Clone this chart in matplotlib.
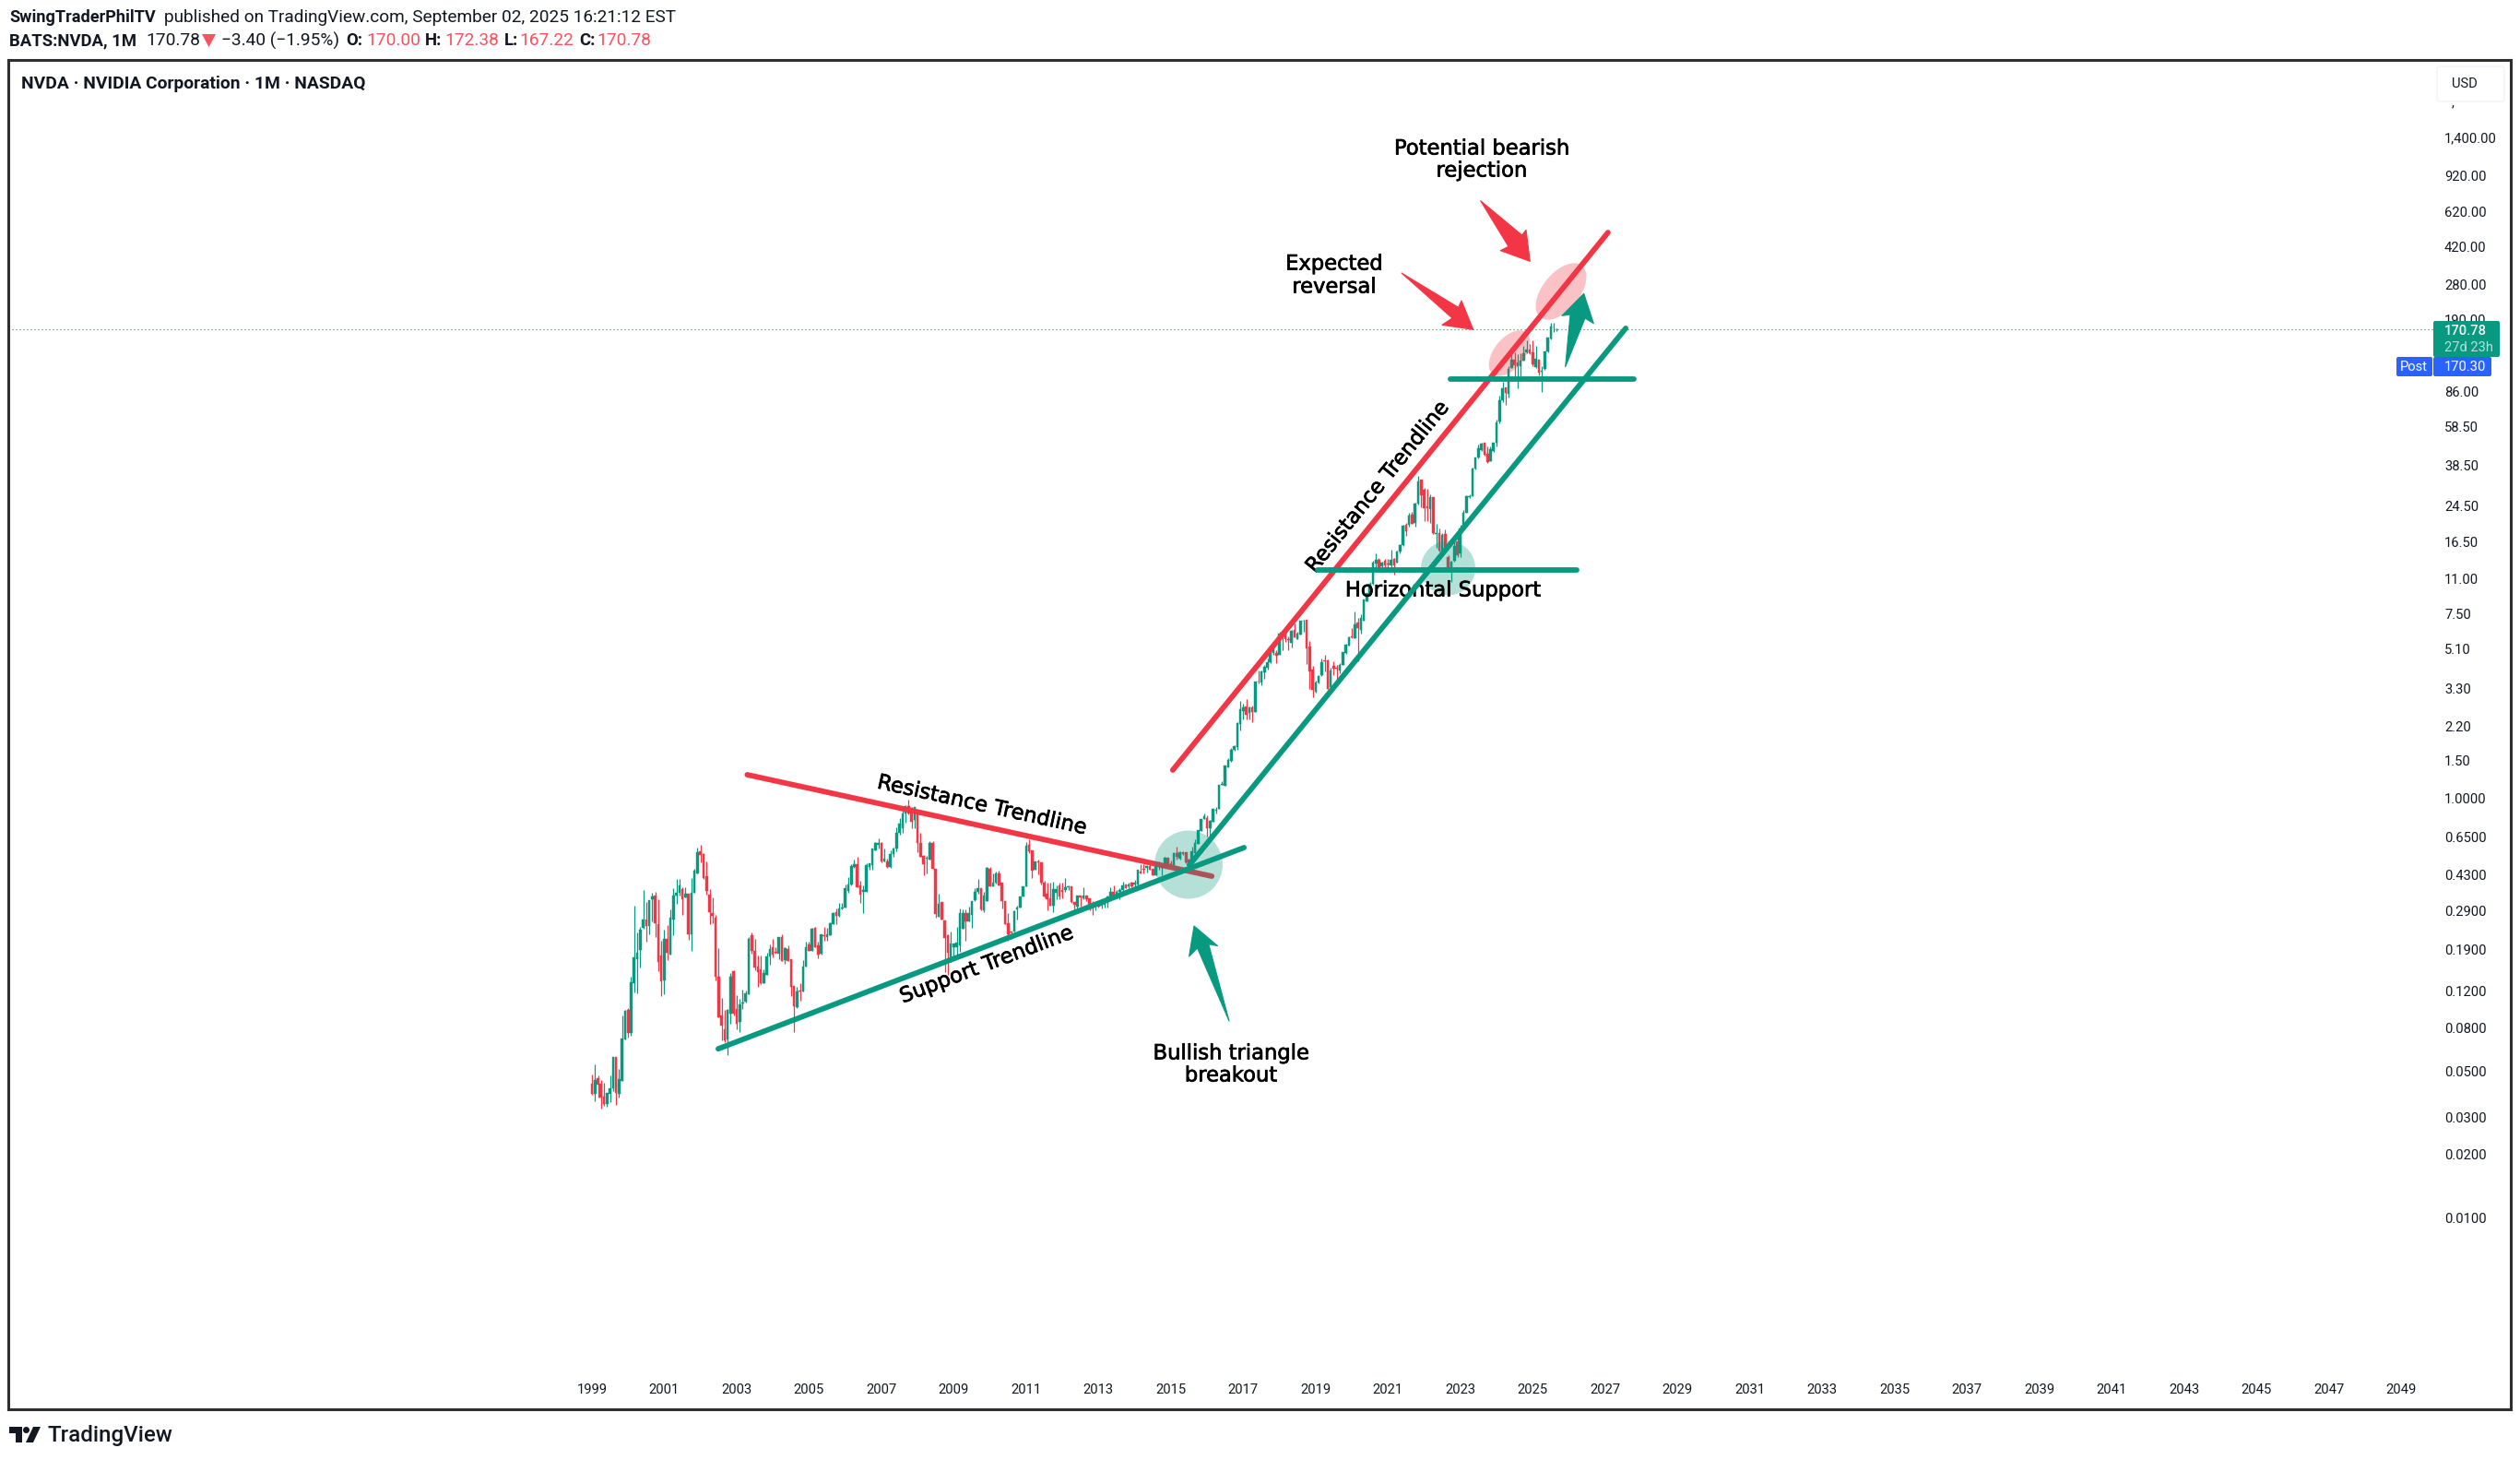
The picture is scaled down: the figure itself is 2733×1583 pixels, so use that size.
#!/usr/bin/env python3
# NVDA monthly candles with hand drawn trendlines, tradingview style
import numpy as np
import matplotlib
matplotlib.use("Agg")
import matplotlib.pyplot as plt
from matplotlib.patches import Ellipse, Polygon, Circle, FancyBboxPatch
from matplotlib.transforms import Affine2D
import matplotlib.patheffects as pe

# ---- monthly candles, Jan 1999 to Sep 2025 ----
start_year = 1999
opens = [
    .0434,.0390,.0464,.0434,.0379,.0347,.0389,.0412,.0582,.0390,
    .0446,.0708,.0975,.0757,.1308,.1701,.1882,.2400,.2627,.2449,
    .3285,.3419,.2499,.1772,.1349,.2126,.1790,.2637,.3419,.3513,
    .3671,.3340,.3489,.2243,.3525,.4374,.5558,.5391,.4230,.3454,
    .2821,.2682,.1404,.0918,.0788,.0705,.0938,.1492,.0985,.0855,
    .1050,.1068,.1158,.2213,.1863,.1568,.1523,.1308,.1432,.1754,
    .1940,.1839,.1808,.2180,.1684,.1901,.1701,.1269,.1008,.1206,
    .1194,.1568,.2000,.1863,.2399,.1980,.1808,.2213,.2170,.2213,
    .2499,.2850,.2737,.2968,.2998,.3600,.3861,.4660,.4823,.3822,
    .3560,.3560,.4679,.4775,.5612,.5966,.6086,.4975,.4975,.4679,
    .5397,.5729,.6827,.7130,.8385,.9126,.8945,.7840,.8304,.6065,
    .5280,.5105,.5075,.6085,.4585,.2710,.3185,.2605,.2215,.1730,
    .1935,.1947,.1980,.2370,.2821,.2565,.2765,.3250,.3550,.3696,
    .2900,.3220,.4585,.3770,.3925,.4345,.3925,.3205,.2520,.2304,
    .2304,.2950,.2990,.3385,.3795,.5985,.5615,.4555,.4975,.4925,
    .3925,.3475,.3320,.3060,.3520,.3822,.3620,.3620,.3740,.3795,
    .3185,.3019,.3405,.3320,.3405,.3320,.3165,.3060,.3122,.3060,
    .3100,.3145,.3360,.3573,.3475,.3550,.3620,.3875,.3785,.3925,
    .3875,.3850,.4465,.4585,.4620,.4710,.4600,.4290,.4870,.4650,
    .4780,.5177,.4870,.4710,.5445,.5140,.5505,.5505,.5090,.4840,
    .5445,.6030,.6970,.7890,.8028,.7135,.7712,.8680,.8825,1.148,
    1.144,1.400,1.497,1.686,1.744,2.246,2.595,2.72,2.544,2.703,
    2.56,3.59,3.54,3.94,4.16,4.41,4.90,4.92,4.795,5.83,
    6.03,5.676,5.488,6.32,5.71,5.99,6.948,7.07,5.25,4.10,
    3.2,3.54,3.85,4.51,4.51,3.37,4.23,4.18,4.05,4.29,
    4.90,5.33,5.85,5.78,6.83,6.28,6.99,8.65,9.4,10.5,
    13.0,13.55,12.65,13.4,13.1,12.75,13.7,13.18,14.9,16.0,
    19.9,19.9,22.3,20.43,25.2,32.74,29.3,24.5,23.8,27.0,
    18.1,18.3,14.9,18.0,14.0,12.1,13.4,16.69,14.58,19.2,
    22.8,27.1,27.2,37.2,41.7,45.5,49.05,43.4,40.0,45.0,
    49.05,62.0,78.4,90.2,83.8,111.2,122.2,114.2,113.5,120.5,
    132,136,133,112.4,122.2,107.5,110.5,133.4,153.7,173.5,170.0,
]
highs = [
    .0483,.0540,.0475,.0452,.0437,.0392,.0475,.0582,.0582,.0513,
    .0918,.0975,.0999,.1404,.3053,.2281,.2420,.3634,.3186,.3251,
    .3513,.3560,.3285,.2083,.2350,.2482,.2938,.3696,.4103,.4089,
    .3745,.3745,.3489,.4145,.4585,.5790,.5966,.5447,.4979,.3671,
    .3351,.2755,.1923,.1110,.0975,.0985,.1462,.1508,.1147,.1102,
    .1218,.1206,.2180,.2281,.2126,.1772,.1772,.1523,.1826,.2000,
    .2126,.1940,.2180,.2248,.1940,.1980,.1701,.1269,.1256,.1308,
    .1684,.2062,.2062,.2399,.2424,.2062,.2248,.2424,.2399,.2550,
    .2850,.2968,.3154,.3154,.3861,.4188,.4823,.5075,.5231,.4021,
    .3822,.4871,.4871,.5729,.6129,.6403,.6150,.5729,.5127,.5612,
    .5812,.7256,.7980,.8740,.9188,.9765,.9035,.9035,.8589,.6782,
    .5320,.5280,.6235,.6235,.4585,.3475,.3185,.2605,.2240,.2304,
    .2025,.2435,.2960,.2935,.2935,.3019,.3205,.3696,.4089,.3696,
    .3573,.4679,.4679,.4374,.4450,.4495,.3925,.3205,.2821,.2304,
    .2918,.3050,.3385,.3795,.6129,.6339,.5615,.4975,.5075,.4925,
    .4020,.3925,.3954,.4000,.3822,.3925,.3954,.4160,.3822,.3795,
    .3185,.3405,.3430,.3745,.3430,.3320,.3229,.3229,.3205,.3270,
    .3320,.3430,.3760,.3822,.3650,.3696,.3980,.3875,.3925,.3980,
    .4060,.4555,.4810,.4840,.4760,.4810,.4600,.4925,.4975,.4840,
    .5210,.5177,.5007,.5505,.5825,.5539,.5539,.5505,.5145,.5850,
    .6339,.7015,.7890,.8445,.8220,.7810,.8825,.9005,1.152,1.200,
    1.431,1.55,1.72,1.785,2.30,2.90,2.80,2.96,2.73,2.75,
    3.59,4.05,4.02,4.30,4.6,5.20,5.20,5.05,6.15,6.3,
    6.1,5.9,6.28,6.75,6.18,6.95,7.05,7.07,5.6,4.25,
    3.6,3.85,4.6,4.8,4.55,4.15,4.45,4.30,4.38,4.95,
    5.4,5.9,6.45,7.7,7.2,7.50,8.80,9.45,10.7,13.4,
    14.58,13.87,13.27,13.7,13.7,15.2,13.85,15.08,16.13,20.0,
    20.43,22.75,23.0,25.35,34.1,32.74,30.0,29.6,28.0,27.1,
    20.1,19.1,18.15,18.95,14.3,13.5,16.6,18.4,19.9,23.4,
    27.66,28.0,37.46,41.7,48.0,49.3,49.05,47.0,47.0,49.3,
    63.5,82.0,95.8,90.2,114.2,139.8,133,129.8,130.7,142.2,
    150.6,144.6,150.6,142.2,122.2,114.2,133.4,155.7,183.1,183.1,172.38,
]
lows = [
    .0384,.0358,.0375,.0331,.0340,.0337,.0354,.0399,.0345,.0373,
    .0446,.0708,.0720,.0737,.1182,.1174,.1558,.2367,.2069,.2228,
    .2575,.2177,.1497,.1135,.1162,.1684,.1790,.2213,.3122,.3431,
    .2765,.3340,.2111,.1863,.3525,.4374,.4923,.4089,.3466,.2499,
    .2525,.1349,.0900,.0698,.0684,.0594,.0838,.0918,.0788,.0765,
    .0985,.1061,.1158,.1808,.1508,.1256,.1295,.1308,.1432,.1601,
    .1731,.1808,.1701,.1667,.1618,.1667,.1135,.0765,.0995,.1080,
    .1194,.1568,.1863,.1863,.1940,.1718,.1790,.2083,.2083,.2213,
    .2499,.2499,.2710,.2938,.2998,.3525,.3822,.4613,.3745,.3154,
    .2821,.3560,.4540,.4540,.5612,.5729,.4923,.4975,.4633,.4633,
    .5230,.5576,.6670,.6782,.7633,.8304,.7135,.7135,.5500,.5230,
    .4285,.4374,.5075,.4585,.2675,.2710,.2630,.1477,.1430,.1645,
    .1760,.1760,.1850,.2370,.2083,.2565,.2400,.3229,.3500,.2918,
    .2860,.3220,.3770,.3770,.3885,.3835,.2980,.2500,.2083,.2120,
    .2304,.2637,.2990,.3385,.3795,.5445,.4160,.4524,.4300,.3850,
    .3340,.2900,.3060,.2840,.3285,.3285,.3320,.3573,.3635,.3165,
    .2918,.2970,.3019,.3295,.3229,.2900,.2775,.2918,.3000,.2970,
    .3000,.3000,.3340,.3360,.3405,.3270,.3573,.3696,.3696,.3760,
    .3770,.3822,.4345,.4374,.4405,.4524,.4260,.4260,.4524,.4260,
    .4750,.4710,.4679,.4679,.5090,.5090,.5320,.4870,.4765,.4840,
    .5445,.6030,.6970,.7890,.6557,.6445,.7712,.8445,.8825,1.148,
    1.144,1.39,1.49,1.68,1.70,2.09,2.36,2.36,2.36,2.30,
    2.56,3.50,3.45,3.70,4.1,4.40,4.80,4.40,4.795,5.04,
    5.5,5.04,5.2,5.8,5.71,5.99,6.2,4.33,3.31,3.0,
    3.17,3.5,3.8,4.0,3.31,3.27,3.85,3.65,3.9,4.29,
    4.85,5.3,5.78,5.75,4.48,6.07,6.95,8.6,9.2,10.4,
    12.25,12.1,12.33,12.33,12.4,12.5,11.52,13.18,14.6,15.9,
    17.75,19.6,20.2,19.5,24.9,24.3,20.8,20.8,20.43,18.1,
    15.5,14.9,14.9,14.8,11.92,10.7,13.3,14.05,14.05,19.1,
    22.8,26.9,27.2,36.8,41.2,45.0,42.6,39.5,40.0,44.3,
    47.3,61,77,74.7,81,111,101.5,89.6,101.5,120.5,
    130.7,129.5,113.5,111.2,103.3,85.8,109.8,132.9,152.7,165.5,167.22,
]
closes = [
    .0389,.0452,.0431,.0375,.0347,.0392,.0415,.0582,.0392,.0456,
    .0713,.0966,.0757,.1321,.1736,.1820,.2359,.2627,.2449,.3251,
    .3385,.2525,.1656,.1339,.2126,.1826,.2682,.3419,.3513,.3822,
    .3296,.3489,.2243,.3525,.4494,.5502,.5337,.4160,.3609,.2850,
    .2737,.1404,.0900,.0821,.0698,.0975,.1404,.0938,.0838,.1036,
    .1057,.1170,.2130,.1863,.1558,.1477,.1308,.1462,.1754,.1901,
    .1790,.1826,.2170,.1667,.1923,.1667,.1256,.1015,.1194,.1198,
    .1568,.1940,.1863,.2375,.1940,.1790,.2235,.2198,.2235,.2525,
    .2821,.2737,.2968,.2998,.3708,.3861,.4727,.4823,.3745,.3454,
    .3634,.4775,.4871,.5729,.6086,.6086,.4975,.5127,.4679,.5391,
    .5729,.6827,.7555,.8385,.9126,.8445,.7712,.9035,.6065,.5230,
    .4810,.5177,.6085,.4585,.2795,.3122,.2630,.2155,.1825,.2014,
    .2025,.2035,.2821,.2821,.2565,.2821,.3205,.3573,.3696,.2935,
    .3405,.4650,.3770,.3954,.4345,.3835,.3220,.2500,.2228,.2290,
    .2880,.2990,.3385,.3795,.5926,.5576,.4495,.4975,.4925,.3925,
    .3385,.3285,.3060,.3670,.3670,.3385,.3550,.3760,.3785,.3185,
    .3100,.3405,.3340,.3430,.3270,.2935,.2970,.3145,.3019,.3165,
    .3229,.3385,.3573,.3405,.3573,.3635,.3822,.3720,.3875,.3795,
    .3925,.4524,.4374,.4555,.4710,.4555,.4290,.4870,.4810,.4810,
    .5177,.4765,.4710,.5445,.5210,.5505,.5395,.4925,.4810,.5539,
    .6085,.7015,.7890,.8165,.7135,.7762,.8825,.8765,1.152,1.1637,
    1.431,1.508,1.697,1.765,2.27,2.638,2.703,2.485,2.703,2.56,
    3.59,3.56,4.01,4.22,4.43,5.13,5.12,4.76,6.072,6.03,
    5.676,5.62,6.24,5.83,6.03,6.948,7.0,5.17,4.0,3.26,
    3.54,3.787,4.41,4.45,3.31,4.05,4.14,4.14,4.29,4.93,
    5.36,5.82,5.8,6.7,6.45,7.187,8.80,9.41,10.5,13.18,
    13.55,12.33,13.18,12.83,12.95,13.64,12.83,14.83,16.0,19.75,
    18.6,22.15,20.2,25.2,32.2,27.66,23.9,23.95,27.0,18.2,
    18.3,15.0,17.85,14.9,11.92,13.3,15.8,14.3,19.2,22.9,
    27.3,27.4,37.2,41.7,46.1,48.5,42.9,39.8,45.85,49.05,
    61.5,78.4,89.3,85.0,110.0,122.2,115,119,120.5,130.7,
    136,131.6,116.2,123,106.1,108.2,133.4,155.7,175.9,174.2,170.78,
]

# ---- axis ticks ----
price_ticks = [1400, 920, 620, 420, 280, 190, 130, 86, 58.5, 38.5, 24.5, 16.5, 11,
               7.5, 5.1, 3.3, 2.2, 1.5, 1.0, .65, .43, .29, .19, .12, .08, .05, .03, .02, .01]
year_ticks = list(range(1999, 2050, 2))
last_price = 170.78

# ---- drawn trendlines (year, price) ----
res_low_years, res_low_prices = [2003.29, 2016.13], [1.288, .4231]
sup_low_years, sup_low_prices = [2002.49, 2017.02], [.0637, .579]
res_up_years, res_up_prices = [2015.05, 2027.08], [1.355, 493]
sup_up_years, sup_up_prices = [2015.51, 2027.57], [.478, 172.4]
hline_high_years, hline_high_prices = [2022.73, 2027.8], [98.8, 98.8]
hline_low_years, hline_low_prices = [2019.06, 2026.22], [12.17, 12.17]

GREEN = "#089981"
RED = "#f23645"
INK = "#131722"
BLUE = "#2962ff"
W, H = 2733, 1583

fig = plt.figure(figsize=(W / 100, H / 100), dpi=100, facecolor="white")
# panel box in pixels: left 9, right 2723, top 65, bottom 1528
ax = fig.add_axes([9 / W, 1 - 1528 / H, (2723 - 9) / W, (1528 - 65) / H])
ax.set_yscale("log")
ax.set_xlim(1982.87, 2052.03)
ax.set_ylim(.001222, 3272.6)
ax.set_xticks([])
ax.set_yticks([])
ax.minorticks_off()
for s in ax.spines.values():
    s.set_linewidth(2.2)
    s.set_color("#2e2e2e")
    s.set_zorder(20)

# pixel coords with y going down, for the overlay bits
to_px = Affine2D().scale(1, -1).translate(0, H)

# ---- candles ----
o = np.array(opens)
h = np.array(highs)
l = np.array(lows)
c = np.array(closes)
xs = start_year + np.arange(len(o)) / 12.0
cols = np.where(c >= o, GREEN, RED)
ax.vlines(xs, l, h, colors=cols, linewidth=0.9, zorder=2)
ax.bar(xs, np.abs(c - o), bottom=np.minimum(o, c), width=0.066, color=cols,
       edgecolor=cols, linewidth=0.3, zorder=2.1)

# last price line
ax.plot([ax.get_xlim()[0], 2051.0], [last_price, last_price], color=BLUE, lw=0.8,
        linestyle=(0, (1, 2.6)), zorder=1.5)

# ---- trendlines ----
ax.plot(res_low_years, res_low_prices, color=RED, lw=4.2, solid_capstyle="round", zorder=3)
ax.add_patch(Circle((1289, 937.5), 37, transform=to_px, color=GREEN, alpha=.3, lw=0, zorder=4))
ax.add_patch(Circle((1570.5, 616), 29.5, transform=to_px, color=GREEN, alpha=.3, lw=0, zorder=4))
ax.add_patch(Ellipse((1637, 383), 58, 33, angle=-51, transform=to_px, color=RED, alpha=.3, lw=0, zorder=4))
ax.add_patch(Ellipse((1693, 316), 72, 40, angle=-51, transform=to_px, color=RED, alpha=.3, lw=0, zorder=4))

# ---- labels on the drawing ----
note_font = dict(family="DejaVu Sans", color="black", transform=to_px, zorder=4.5, fontsize=16.3,
                 ha="center", va="center", rotation_mode="anchor",
                 path_effects=[pe.withStroke(linewidth=0.5, foreground="black")])
ax.text(1065, 873, "Resistance Trendline", rotation=-12.5, **note_font)
ax.text(1070, 1046, "Support Trendline", rotation=20.9, **note_font)
ax.text(1494, 528, "Resistance Trendline", rotation=51, **note_font)
ax.text(1565, 640, "Horizontal Support", **note_font)
for txt, xp, yp in [("Potential bearish", 1607, 161), ("rejection", 1607, 185),
                    ("Expected", 1447, 286), ("reversal", 1447, 311),
                    ("Bullish triangle", 1335, 1142), ("breakout", 1335, 1166)]:
    ax.text(xp, yp, txt, **note_font)

for xv, yv, col in [(res_up_years, res_up_prices, RED), (sup_low_years, sup_low_prices, GREEN),
                    (sup_up_years, sup_up_prices, GREEN), (hline_high_years, hline_high_prices, GREEN),
                    (hline_low_years, hline_low_prices, GREEN)]:
    ax.plot(xv, yv, color=col, lw=4.2, solid_capstyle="round", zorder=5)

# ---- arrows ----
arrows = [
    (RED, [(1605.7, 217.7), (1650.7, 255), (1655, 249.3), (1659.3, 283.3), (1627.3, 271.7), (1636, 267.3)]),
    (RED, [(1520, 296), (1581.7, 333.3), (1585, 326), (1597.7, 357.3), (1564, 352.3), (1575, 345)]),
    (GREEN, [(1697.7, 397.7), (1703, 341), (1694, 342.3), (1717.7, 318.3), (1728.3, 350.7), (1719, 345)]),
    (GREEN, [(1333, 1107), (1298.6, 1028), (1289.6, 1037), (1295, 1004), (1320.5, 1025.5), (1310.8, 1023.7)]),
]
for col, pts in arrows:
    ax.add_patch(Polygon(pts, closed=True, transform=to_px, facecolor=col, edgecolor=col,
                         lw=0.8, joinstyle="round", zorder=6))

# ---- axis labels, drawn inside the panel like the site does ----
axis_font = dict(family="Roboto", fontsize=10.6, color=INK)
def price_label(p):
    if p >= 1000:
        return f"{p:,.2f}"
    if p > 1:
        return f"{p:.2f}"
    return f"{p:.4f}"

y_tf = ax.get_yaxis_transform() + Affine2D().translate(0, -1.5)
for p in price_ticks:
    ax.text((2651 - 9) / (2723 - 9), p, price_label(p), transform=y_tf, ha="left", va="center",
            zorder=7, **axis_font)
x_tf = ax.get_xaxis_transform()
for yr in year_ticks:
    ax.text(yr, (1528 - 1507) / (1528 - 65), str(yr), transform=x_tf, ha="center", va="center",
            zorder=7, **axis_font)

# USD button and price tags (the top tick label hides behind the button, only its comma shows)
ax.text(2660, 111, ",", transform=to_px, ha="center", va="center", zorder=7, **axis_font)
ax.add_patch(FancyBboxPatch((2646, 75), 67, 32, boxstyle="round,pad=3", transform=to_px,
                            facecolor="white", edgecolor="#f0f3fa", lw=1, zorder=8))
ax.text(2673, 91, "USD", transform=to_px, ha="center", va="center", zorder=9, **axis_font)
ax.add_patch(FancyBboxPatch((2641, 350), 68, 35, boxstyle="round,pad=2", transform=to_px,
                            facecolor=GREEN, edgecolor="none", zorder=8))
ax.add_patch(FancyBboxPatch((2641, 389), 59, 17, boxstyle="round,pad=2", transform=to_px,
                            facecolor=BLUE, edgecolor="none", zorder=8))
ax.add_patch(FancyBboxPatch((2601, 389), 35, 17, boxstyle="round,pad=2", transform=to_px,
                            facecolor=BLUE, edgecolor="none", zorder=8))
tag_font = dict(family="Roboto", fontsize=10.6, transform=to_px, va="center", zorder=9)
ax.text(2651, 359, "170.78", color="white", ha="left", fontweight="medium", **tag_font)
ax.text(2651, 377, "27d 23h", color="#b5e0d8", ha="left", **tag_font)
ax.text(2651, 398, "170.30", color="white", ha="left", **tag_font)
ax.text(2618, 398, "Post", color="white", ha="center", **tag_font)

# ---- header ----
head_fam = ["Liberation Sans Narrow", "Roboto"]
def head(x, y, s, weight="normal", col=INK, size=13.8):
    fig.text(x / W, 1 - y / H, s, family=head_fam, fontsize=size, fontweight=weight,
             color=col, ha="left", va="center")

head(10, 19, "SwingTraderPhilTV", "bold", size=13.1)
head(178, 19, "published on TradingView.com, September 02, 2025 16:21:12 EST", size=13.7)
head(10, 44, "BATS:NVDA, 1M", "bold", size=13.3)
head(158, 44, "170.78")
head(240, 44, "\u22123.40 (\u22121.95%)")
for x_lab, s_lab, x_val, s_val in [(375, "O:", 397, "170.00"), (461, "H:", 482, "172.38"),
                                   (547, "L:", 563, "167.22"), (628, "C:", 647, "170.78")]:
    head(x_lab, 44, s_lab, "bold", size=13.3)
    head(x_val, 44, s_val, col="#f7525f")
fig.add_artist(Polygon([(219, 37), (234, 37), (226.5, 51)], closed=True, transform=to_px,
                       facecolor="#f7525f", edgecolor="none"))
head(23, 91, "NVDA \u00b7 NVIDIA Corporation \u00b7 1M \u00b7 NASDAQ", "bold", size=13.85)

# ---- logo ----
fig.add_artist(Polygon([(10, 1547), (24, 1547), (24, 1564), (17, 1564), (17, 1554), (10, 1554)],
                       closed=True, transform=to_px, facecolor=INK, edgecolor="none"))
fig.add_artist(Circle((28.5, 1550.5), 3.5, transform=to_px, facecolor=INK, edgecolor="none"))
fig.add_artist(Polygon([(36, 1547), (44, 1547), (36, 1564), (28, 1564)],
                       closed=True, transform=to_px, facecolor=INK, edgecolor="none"))
fig.text(52 / W, 1 - 1556 / H, "TradingView", family="Roboto", fontsize=17.4, fontweight="medium",
         color=INK, ha="left", va="center")

fig.savefig("out.png", dpi=100, facecolor="white")
plt.close(fig)
